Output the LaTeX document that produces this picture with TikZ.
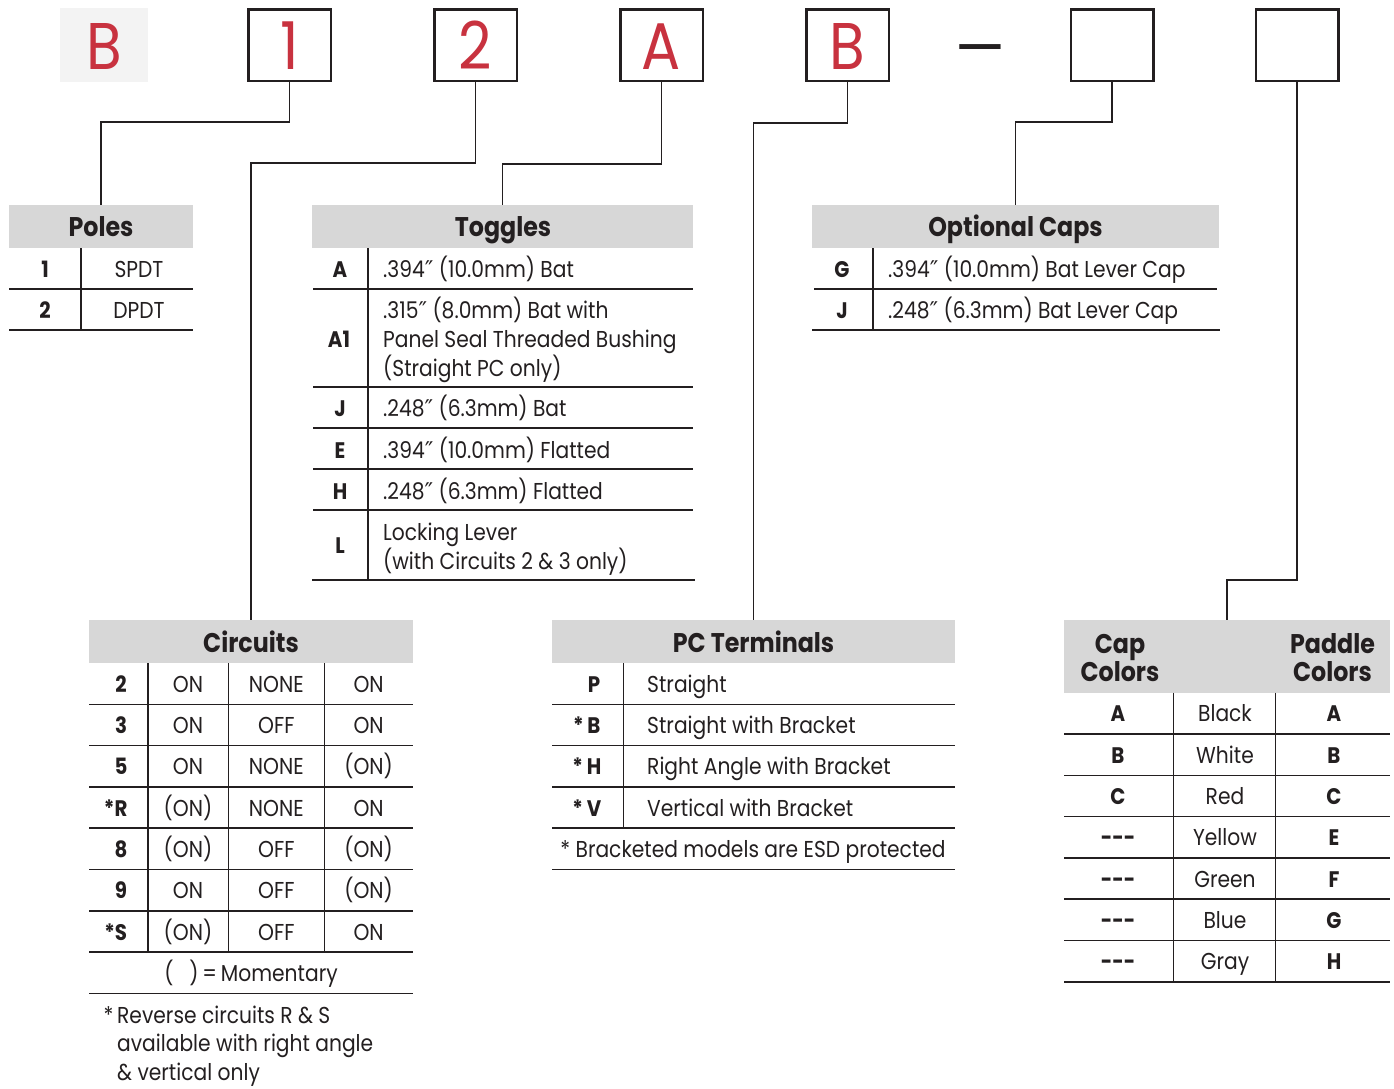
\documentclass[tikz,border=0pt]{standalone}
\usepackage{fontspec}
\setmainfont{Poppins}[FakeStretch=0.88]
\newfontfamily\primefont{DejaVu Sans}
\newcommand\dq{{\primefont ″}}
\definecolor{hdrgray}{HTML}{D7D7D7}
\definecolor{boxgray}{HTML}{F3F3F3}
\definecolor{brand}{HTML}{C8323F}
\definecolor{ink}{HTML}{231F20}
\newcommand\bodyfont{\fontsize{23}{29}\selectfont}
\newcommand\headfont{\fontsize{27}{28.5}\selectfont\bfseries}
\newcommand\labfont{\fontsize{22.5}{29}\selectfont\bfseries}
\newcommand\bigfont{\fontsize{66}{70}\selectfont}
\newcommand\dashfont{\fontsize{64}{66}\selectfont}
\tikzset{
  codebox/.style={draw=ink, line width=2.5pt, minimum width=82.5pt, minimum height=71.5pt, inner sep=0pt},
  codetext/.style={text=brand, font=\bigfont, anchor=base, inner sep=0pt},
  conn/.style={draw=ink, line width=1.5pt},
  tabrule/.style={draw=ink, line width=1.6pt},
  hdr/.style={fill=hdrgray, inner sep=0pt, anchor=north west},
  hdrtext/.style={font=\headfont, text=ink, anchor=base, inner sep=0pt},
  txt/.style={font=\bodyfont, text=ink, anchor=base west, inner sep=0pt},
  ctxt/.style={font=\bodyfont, text=ink, anchor=base, inner sep=0pt},
  lab/.style={font=\labfont, text=ink, anchor=base, inner sep=0pt},
}
\begin{document}
\begin{tikzpicture}[x=1pt, y=-1pt]
\useasboundingbox (0,0) rectangle (1394,1088);

% ---------- code boxes ----------
\node[fill=boxgray, minimum width=88pt, minimum height=74pt, inner sep=0pt] (c0) at (104,45) {};
\node[codetext] (c0t) at (104,69) {B};
\node[codebox] (c1) at (289.5,45) {};
\node[codetext] (c1t) at (289.5,69) {1};
\node[codebox] (c2) at (475.5,45) {};
\node[codetext] (c2t) at (475.5,69) {2};
\node[codebox] (c3) at (661.5,45) {};
\node[codetext] (c3t) at (661.5,69) {A};
\node[codebox] (c4) at (847.5,45) {};
\node[codetext] (c4t) at (847.5,69) {B};
\node[font=\dashfont, text=ink, inner sep=0pt] (dash) at (980,58) {—};
\node[codebox] (c6) at (1112,45) {};
\node[codebox] (c7) at (1297,45) {};

% ---------- headers ----------
\node[hdr, minimum width=184pt, minimum height=43pt] (poles) at (9,205) {};
\node[hdrtext] (polesT) at (101,236.7) {Poles};
\node[hdr, minimum width=381pt, minimum height=43pt] (tog) at (312,205) {};
\node[hdrtext] (togT) at (503,236.7) {Toggles};
\node[hdr, minimum width=407pt, minimum height=43pt] (opt) at (812,205) {};
\node[hdrtext] (optT) at (1015.5,236.7) {Optional Caps};
\node[hdr, minimum width=324pt, minimum height=43pt] (circ) at (89,620) {};
\node[hdrtext] (circT) at (251,652) {Circuits};
\node[hdr, minimum width=403pt, minimum height=43pt] (pc) at (552,620) {};
\node[hdrtext] (pcT) at (753.5,652) {PC Terminals};
\node[hdr, minimum width=326pt, minimum height=72.7pt] (cap) at (1064,620) {};
\node[hdrtext] (capT1) at (1120,653) {Cap};
\node[hdrtext] (capT2) at (1120,681.7) {Colors};
\node[hdrtext] (padT1) at (1332.5,653) {Paddle};
\node[hdrtext] (padT2) at (1332.5,681.7) {Colors};

% ---------- connectors ----------
\coordinate (k1) at (0,122);
\coordinate (k2) at (0,163);
\coordinate (k3) at (0,164);
\coordinate (k4) at (0,123);
\coordinate (k6) at (0,122);
\coordinate (k7) at (0,580);
\draw[conn] (c1.south) -- (c1.south |- k1) -| (poles.north);
\draw[conn] (c2.south) -- (c2.south |- k2) -| (circ.north);
\draw[conn] (c3.south) -- (c3.south |- k3) -| (tog.north);
\draw[conn] (c4.south) -- (c4.south |- k4) -| (pc.north);
\draw[conn] (c6.south) -- (c6.south |- k6) -| (opt.north);
\draw[conn] (c7.south) -- (c7.south |- k7) -| (cap.north);

% ---------- Poles ----------
\draw[tabrule] (9,289) -- (193,289);
\draw[tabrule] (9,330) -- (193,330);
\draw[tabrule] (81,248) -- (81,330);
\node[lab] (p1) at (45,277) {1};
\node[ctxt] (p1t) at (139,277) {SPDT};
\node[lab] (p2) at (45,318) {2};
\node[ctxt] (p2t) at (139,318) {DPDT};

% ---------- Toggles ----------
\foreach \yy in {289,387,428,469,510} \draw[tabrule] (313,\yy) -- (693,\yy);
\draw[tabrule] (312,580) -- (695,580);
\draw[tabrule] (368,248) -- (368,580);
\node[lab] (tA) at (340,277.3) {A};
\node[txt] (tAt) at (383,277.3) {.394\dq\ (10.0mm) Bat};
\node[lab] (tA1) at (339,347.3) {A1};
\node[txt] (tA1a) at (383,318.3) {.315\dq\ (8.0mm) Bat with};
\node[txt] (tA1b) at (383,347.3) {Panel Seal Threaded Bushing};
\node[txt] (tA1c) at (383,376) {(Straight PC only)};
\node[lab] (tJ) at (340,416.7) {J};
\node[txt] (tJt) at (383,416.7) {.248\dq\ (6.3mm) Bat};
\node[lab] (tE) at (340,458.3) {E};
\node[txt] (tEt) at (383,458.3) {.394\dq\ (10.0mm) Flatted};
\node[lab] (tH) at (340,499) {H};
\node[txt] (tHt) at (383,499) {.248\dq\ (6.3mm) Flatted};
\node[lab] (tL) at (340,553.3) {L};
\node[txt] (tLa) at (383,540) {Locking Lever};
\node[txt] (tLb) at (383,569) {(with Circuits 2 \& 3 only)};

% ---------- Optional Caps ----------
\draw[tabrule] (814,289) -- (1217,289);
\draw[tabrule] (812,330) -- (1220,330);
\draw[tabrule] (873,248) -- (873,330);
\node[lab] (oG) at (842,277) {G};
\node[txt] (oGt) at (888,277) {.394\dq\ (10.0mm) Bat Lever Cap};
\node[lab] (oJ) at (842,318) {J};
\node[txt] (oJt) at (888,318) {.248\dq\ (6.3mm) Bat Lever Cap};

% ---------- Circuits ----------
\foreach \i in {1,...,8} \draw[tabrule] (89,663+41.3*\i) -- (413,663+41.3*\i);
\foreach \xx in {148,228.3,324.3} \draw[tabrule] (\xx,663) -- (\xx,952.1);
\foreach [count=\i from 0] \a/\b/\c/\d in {2/ON/NONE/ON, 3/ON/OFF/ON, 5/ON/NONE/(ON), {\llap{*}R}/(ON)/NONE/ON, 8/(ON)/OFF/(ON), 9/ON/OFF/(ON), {\llap{*}S}/(ON)/OFF/ON}{
  \node[lab] (cr\i a) at (121,692.2+41.3*\i) {\a};
  \node[ctxt] (cr\i b) at (188,692.2+41.3*\i) {\b};
  \node[ctxt] (cr\i c) at (276.3,692.2+41.3*\i) {\c};
  \node[ctxt] (cr\i d) at (368.6,692.2+41.3*\i) {\d};
}
\node[ctxt] (mom) at (251,981.5) {(\hspace{16pt})\,=\,Momentary};
\node[txt] (fn1) at (117,1023) {\llap{*\,}Reverse circuits R \& S};
\node[txt] (fn2) at (117,1051.5) {available with right angle};
\node[txt] (fn3) at (117,1080) {\& vertical only};

% ---------- PC Terminals ----------
\foreach \i in {1,...,5} \draw[tabrule] (552,663+41.3*\i) -- (955,663+41.3*\i);
\draw[tabrule] (623.5,663) -- (623.5,828.2);
\foreach [count=\i from 0] \a/\b in {P/Straight, {\llap{*\,}B}/Straight with Bracket, {\llap{*\,}H}/Right Angle with Bracket, {\llap{*\,}V}/Vertical with Bracket}{
  \node[lab] (pc\i a) at (594,692.2+41.3*\i) {\a};
  \node[txt] (pc\i b) at (647,692.2+41.3*\i) {\b};
}
\node[ctxt] (pcfn) at (753,857.4) {* Bracketed models are ESD protected};

% ---------- Cap / Paddle Colors ----------
\foreach \i in {1,...,7} \draw[tabrule] (1064,692.7+41.3*\i) -- (1390,692.7+41.3*\i);
\foreach \xx in {1173.3,1275.3} \draw[tabrule] (\xx,692.7) -- (\xx,981.8);
\foreach [count=\i from 0] \a/\b/\c in {A/Black/A, B/White/B, C/Red/C, -{}-{}-/Yellow/E, -{}-{}-/Green/F, -{}-{}-/Blue/G, -{}-{}-/Gray/H}{
  \node[lab] (cc\i a) at (1118,721.9+41.3*\i) {\a};
  \node[ctxt] (cc\i b) at (1225,721.9+41.3*\i) {\b};
  \node[lab] (cc\i c) at (1334,721.9+41.3*\i) {\c};
}
\end{tikzpicture}
\end{document}
